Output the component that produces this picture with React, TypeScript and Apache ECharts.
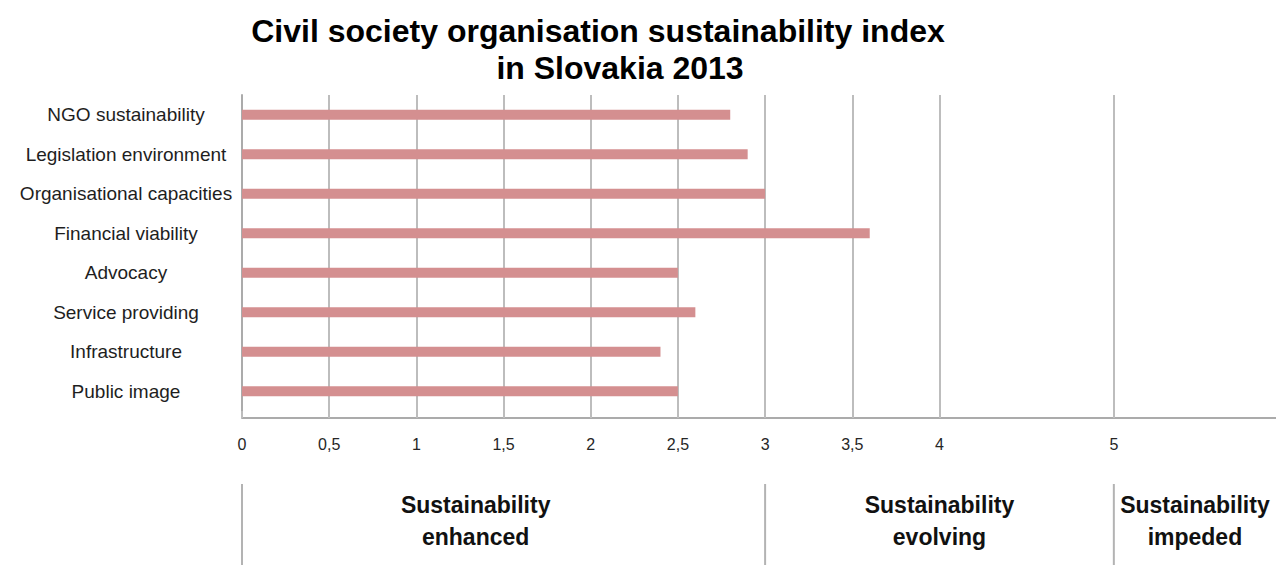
import React, { useEffect, useRef } from 'react';
import * as echarts from 'echarts';

const titleLines = ['Civil society organisation sustainability index', 'in Slovakia 2013'];
const categories = [
  'NGO sustainability',
  'Legislation environment',
  'Organisational capacities',
  'Financial viability',
  'Advocacy',
  'Service providing',
  'Infrastructure',
  'Public image',
];
const values = [2.8, 2.9, 3.0, 3.6, 2.5, 2.6, 2.4, 2.5];
const tickValues = [0, 0.5, 1, 1.5, 2, 2.5, 3, 3.5, 4, 5];
const zoneBounds = [0, 3, 5];
const zoneLabels = ['Sustainability\nenhanced', 'Sustainability\nevolving', 'Sustainability\nimpeded'];
const axisMin = 0;
const axisMax = 5.93;

const FONT = "'Liberation Sans', Arial, sans-serif";
const GRID_COLOR = '#bdbdbd';

export default function App() {
  const ref = useRef<HTMLDivElement>(null);

  useEffect(() => {
    document.body.style.margin = '0';
    if (!ref.current) return;
    const chart = echarts.init(ref.current, null, { renderer: 'svg' });
    chart.setOption({
      animation: false,
      backgroundColor: '#ffffff',
      grid: { left: 242, right: 0, top: 95, height: 316, containLabel: false },
      xAxis: {
        type: 'value',
        min: axisMin,
        max: axisMax,
        offset: 7,
        axisLine: { show: true, lineStyle: { color: '#ababab', width: 2 } },
        axisTick: {
          show: true,
          inside: true,
          length: 7,
          customValues: tickValues,
          lineStyle: { color: GRID_COLOR, width: 2 },
        },
        axisLabel: {
          customValues: tickValues,
          formatter: (v: number) => String(v).replace('.', ','),
          fontSize: 16,
          color: '#262626',
          margin: 18,
          fontFamily: FONT,
        },
        splitLine: { show: true, lineStyle: { color: GRID_COLOR, width: 2 } },
      },
      yAxis: {
        type: 'category',
        inverse: true,
        data: categories,
        axisLine: { show: true, lineStyle: { color: '#ababab', width: 2 } },
        axisTick: { show: false },
        axisLabel: {
          align: 'center',
          margin: 116,
          fontSize: 19,
          color: '#1e1e1e',
          fontFamily: FONT,
          padding: [10, 0, 0, 0],
        },
      },
      series: [
        {
          type: 'bar',
          data: values,
          barWidth: 10,
          itemStyle: { color: '#d48f90' },
        },
      ],
    });

    const px = (v: number) => chart.convertToPixel({ xAxisIndex: 0 }, v) as number;
    const bounds = zoneBounds.map(px);
    const rightEdge = px(axisMax);
    const zoneCenters = [
      px(1.34),
      (bounds[1] + bounds[2]) / 2,
      (bounds[2] + rightEdge) / 2,
    ];

    const graphics: any[] = [
      {
        type: 'text',
        x: 598,
        y: 31,
        style: {
          text: titleLines[0],
          font: `bold 32px ${FONT}`,
          fill: '#000',
          align: 'center',
          verticalAlign: 'middle',
        },
      },
      {
        type: 'text',
        x: 620,
        y: 68,
        style: {
          text: titleLines[1],
          font: `bold 32px ${FONT}`,
          fill: '#000',
          align: 'center',
          verticalAlign: 'middle',
        },
      },
    ];
    bounds.forEach((bx) => {
      graphics.push({
        type: 'line',
        shape: { x1: bx, y1: 484, x2: bx, y2: 565 },
        style: { stroke: '#b3b3b3', lineWidth: 2 },
      });
    });
    zoneLabels.forEach((t, i) => {
      graphics.push({
        type: 'text',
        x: zoneCenters[i],
        y: 521,
        style: {
          text: t,
          font: `bold 23px ${FONT}`,
          lineHeight: 32,
          fill: '#111',
          align: 'center',
          verticalAlign: 'middle',
        },
      });
    });
    chart.setOption({ graphic: graphics });

    return () => chart.dispose();
  }, []);

  return <div ref={ref} style={{ width: 1276, height: 565 }} />;
}
